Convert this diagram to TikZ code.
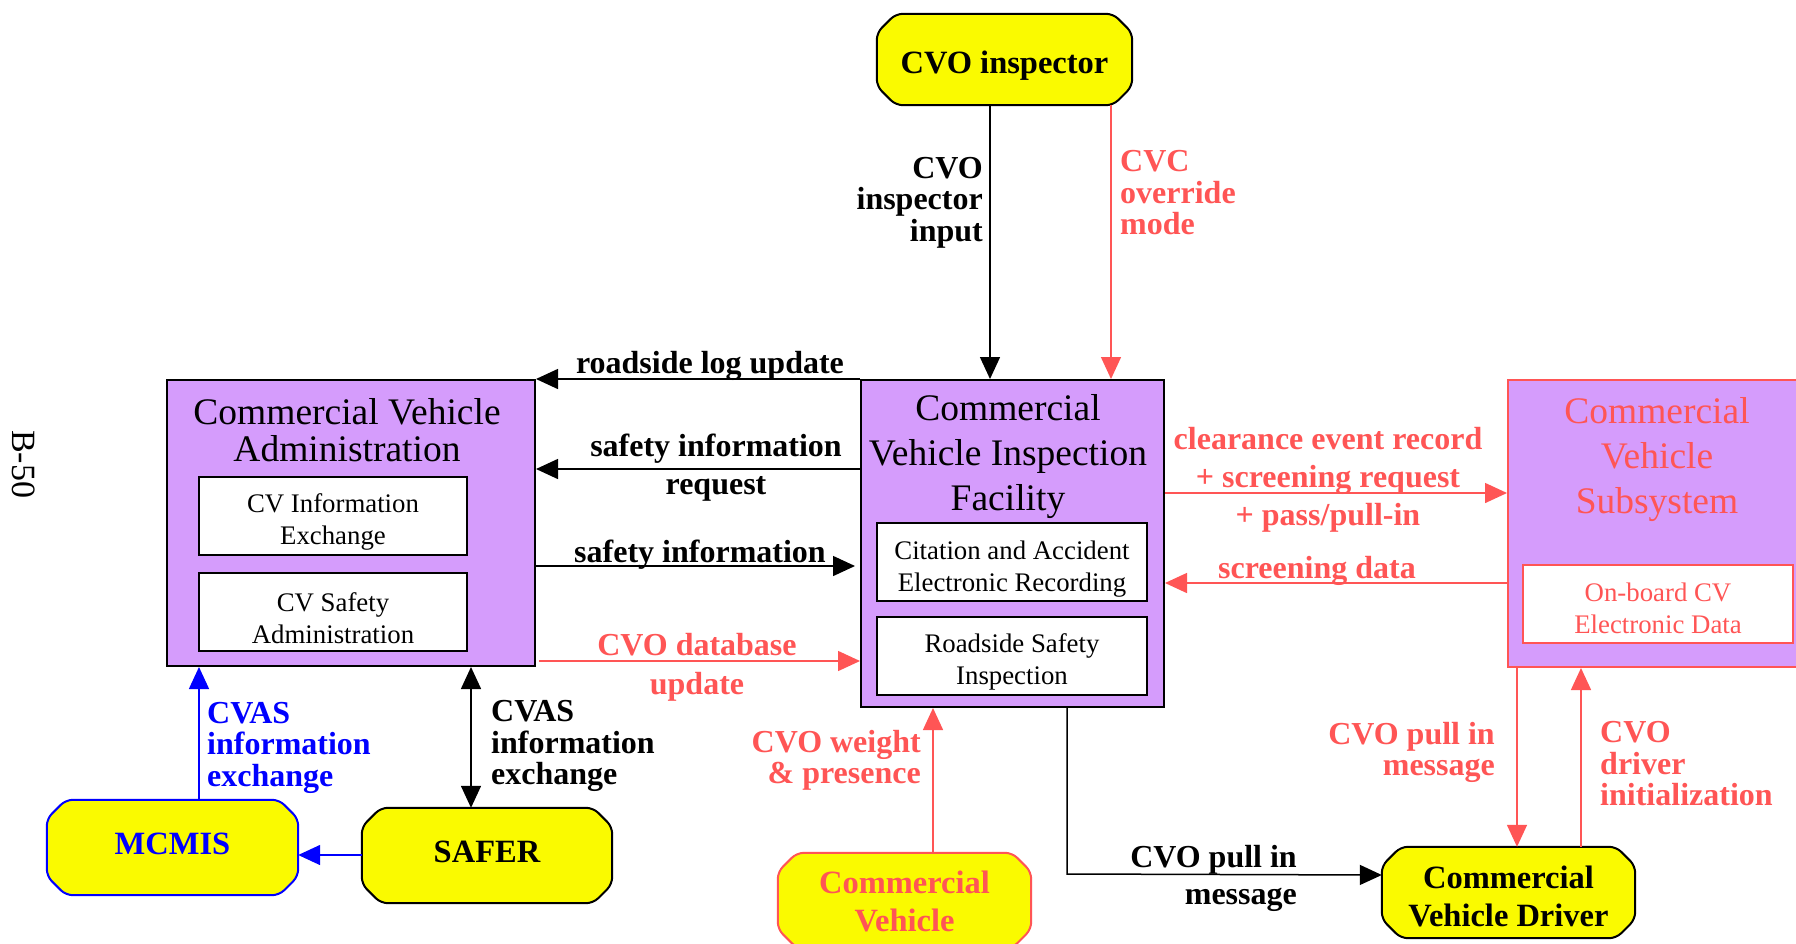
\documentclass[tikz,border=0pt]{standalone}
\usepackage{fontspec}
\setmainfont{Liberation Serif}
\usetikzlibrary{arrows.meta}
\definecolor{pur}{RGB}{213,156,252}
\definecolor{rd}{RGB}{255,85,85}
\definecolor{yel}{RGB}{250,250,0}
\definecolor{blu}{RGB}{0,0,255}
\newcommand\chamf[2]{\path[#2] ([xshift=19pt]#1.north west) -- ([xshift=-19pt]#1.north east)
  -- ([yshift=-19pt]#1.north east) -- ([yshift=19pt]#1.south east)
  -- ([xshift=-19pt]#1.south east) -- ([xshift=19pt]#1.south west)
  -- ([yshift=19pt]#1.south west) -- ([yshift=-19pt]#1.north west) -- cycle;}
\begin{document}
\begin{tikzpicture}[x=1pt,y=-1pt,
  ext/.style={inner sep=0pt},
  extshape/.style={draw, line width=2pt, fill=yel, rounded corners=7pt},
  exttxt/.style={inner sep=0pt, align=center, font=\fontsize{32.5}{38}\selectfont\bfseries},
  sysbox/.style={draw, line width=2pt, fill=pur, inner sep=0pt},
  subbox/.style={draw, line width=2pt, fill=white, minimum width=270pt, minimum height=78pt, inner sep=0pt},
  subtxt/.style={inner sep=0pt, align=center, font=\fontsize{26.8}{32}\selectfont},
  ttl/.style={align=center, inner sep=0pt},
  lab/.style={inner sep=0pt, font=\fontsize{32}{31.5}\selectfont\bfseries},
  flow/.style={line width=1.5pt, -{Triangle[length=22pt,width=20pt]}},
  bflow/.style={line width=1.5pt, {Triangle[length=22pt,width=20pt]}-{Triangle[length=22pt,width=20pt]}}
]
\useasboundingbox (0,0) rectangle (1796,943);
\fill[white] (0,0) rectangle (1796,943);

% page number
\node[rotate=-90, inner sep=0pt, font=\fontsize{34}{34}\selectfont] (pg) at (24,464) {B-50};

% terminators
\node[ext, minimum width=255pt, minimum height=91pt] (cvi) at (1004.5,59.5) {};
\chamf{cvi}{extshape}
\node[exttxt] (cviT) at (1004.5,65.5) {CVO inspector};
\node[ext, minimum width=251pt, minimum height=95pt] (mcmis) at (172.5,847.5) {};
\chamf{mcmis}{extshape, draw=blu}
\node[exttxt, text=blu] (mcmisT) at (172.5,844) {MCMIS};
\node[ext, minimum width=250pt, minimum height=95pt] (safer) at (487,855.5) {};
\chamf{safer}{extshape}
\node[exttxt] (saferT) at (487,852) {SAFER};
\node[ext, minimum width=253pt, minimum height=95pt] (cv) at (904.5,900.5) {};
\chamf{cv}{extshape, draw=rd}
\node[exttxt, text=rd] (cvT) at (904.5,901.5) {Commercial\\Vehicle};
\node[ext, minimum width=253pt, minimum height=91pt] (drv) at (1508.5,892.5) {};
\chamf{drv}{extshape}
\node[exttxt] (drvT) at (1508.5,896) {Commercial\\Vehicle Driver};

% Commercial Vehicle Administration
\node[sysbox, minimum width=368pt, minimum height=286pt] (cva) at (351,523) {};
\node[ttl, font=\fontsize{37.5}{37}\selectfont] (cvaT) at (347,430) {Commercial Vehicle\\Administration};
\node[subbox, minimum width=268pt] (cvinfo) at (333,516) {};
\node[subtxt] (cvinfoT) at (333,522) {CV Information\\Exchange};
\node[subbox, minimum width=268pt] (cvsafe) at (333,612) {};
\node[subtxt] (cvsafeT) at (333,618) {CV Safety\\Administration};

% Commercial Vehicle Inspection Facility
\node[sysbox, minimum width=303pt, minimum height=327pt] (cvif) at (1012.5,543.5) {};
\node[ttl, font=\fontsize{37.5}{45}\selectfont] (cvifT) at (1008,456.5) {Commercial\\Vehicle Inspection\\Facility};
\node[subbox] (cita) at (1012,562) {};
\node[subtxt] (citaT) at (1012,569) {Citation and Accident\\Electronic Recording};
\node[subbox] (rsi) at (1012,656) {};
\node[subtxt] (rsiT) at (1012,662) {Roadside Safety\\Inspection};

% Commercial Vehicle Subsystem
\node[sysbox, draw=rd, minimum width=300pt, minimum height=287pt] (cvs) at (1658,523.5) {};
\node[ttl, text=rd, font=\fontsize{37.5}{45}\selectfont] (cvsT) at (1657,460) {Commercial\\Vehicle\\Subsystem};
\node[subbox, draw=rd] (obd) at (1658,604) {};
\node[subtxt, text=rd] (obdT) at (1658,608) {On-board CV\\Electronic Data};

% connectors
\draw[flow] (cvif.north west) -- (cva.north east);
\node[lab, anchor=south] (l1) at (710,381) {roadside log update};

\draw[flow] (cvif.west |- 0,469) -- (cva.east |- 0,469);
\node[lab, font=\fontsize{32}{38}\selectfont\bfseries, align=center] (l2) at (716,467.5) {safety information\\request};

\draw[flow] (cva.east |- 0,566) -- (855,566);
\node[lab, anchor=south] (l3) at (700,570) {safety information};

\draw[flow, rd] (539,661) -- (cvif.west |- 0,661);
\node[lab, text=rd, font=\fontsize{32}{39}\selectfont\bfseries, align=center] (l4) at (697,667) {CVO database\\update};

\draw[flow] (990,0 |- cvi.south) -- (990,0 |- cvif.north);
\node[lab, align=right, anchor=east] (l5) at (983,202.5) {CVO\\inspector\\input};

\draw[flow, rd] (1111,0 |- cvi.south) -- (1111,0 |- cvif.north);
\node[lab, text=rd, align=left, anchor=west] (l6) at (1120,193) {CVC\\override\\mode};

\draw[flow, rd] (cvif.east |- 0,493) -- (cvs.west |- 0,493);
\node[lab, text=rd, font=\fontsize{32}{38}\selectfont\bfseries, align=center] (l7) at (1328,479.5) {clearance event record\\+ screening request\\+ pass/pull-in};

\draw[flow, rd] (cvs.west |- 0,583) -- (cvif.east |- 0,583);
\node[lab, text=rd, anchor=south] (l8) at (1317,586) {screening data};

\draw[flow, rd] (1517,0 |- cvs.south) -- (1517,0 |- drv.north);
\node[lab, text=rd, align=right, anchor=east] (l9) at (1495,752.5) {CVO pull in\\message};

\draw[flow, rd] (1581,0 |- drv.north) -- (1581,0 |- cvs.south);
\node[lab, text=rd, align=left, anchor=west] (l10) at (1600,764) {CVO\\driver\\initialization};

\draw[flow, rd] (933,0 |- cv.north) -- (933,0 |- cvif.south);
\node[lab, text=rd, align=right, anchor=east] (l11) at (921,760.5) {CVO weight\\\& presence};

\draw[flow] (1067,0 |- cvif.south) -- (1067,874) -- (drv.west |- 0,875);
\node[lab, font=\fontsize{32}{37}\selectfont\bfseries, align=right, anchor=east] (l12) at (1297,878.5) {CVO pull in\\message};

\draw[flow, blu] (199,0 |- mcmis.north) -- (199,0 |- cva.south);
\node[lab, text=blu, align=left, anchor=west] (l13) at (207,747.5) {CVAS\\information\\exchange};

\draw[bflow] (471,0 |- safer.north) -- (471,0 |- cva.south);
\node[lab, align=left, anchor=west] (l14) at (491,746) {CVAS\\information\\exchange};

\draw[flow, blu] (safer.west |- 0,855) -- (mcmis.east |- 0,855);
\end{tikzpicture}
\end{document}
